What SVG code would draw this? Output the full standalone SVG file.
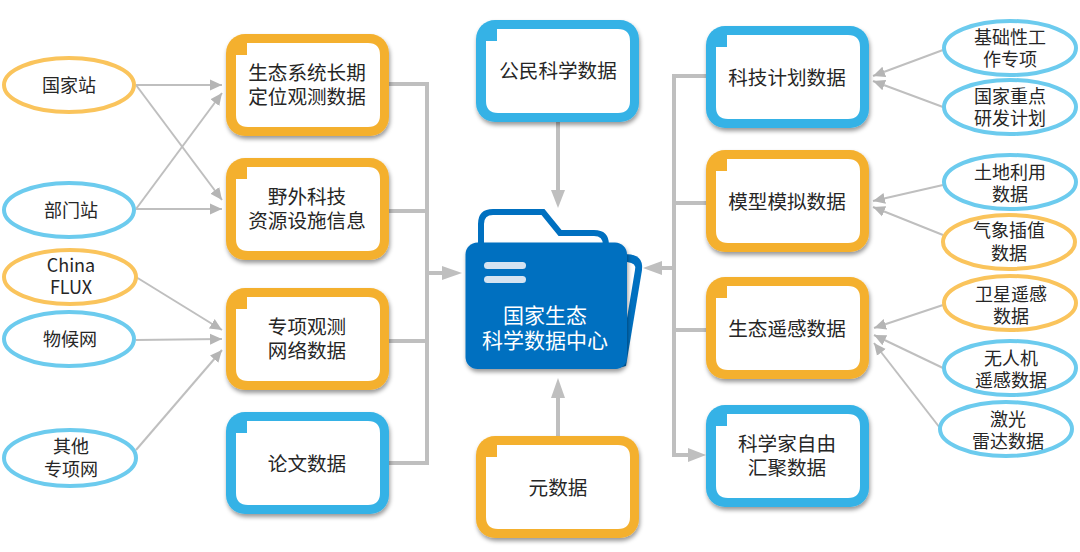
<svg xmlns="http://www.w3.org/2000/svg" width="1080" height="552" viewBox="0 0 1080 552">
<style>
text{font-family:"Noto Sans CJK SC","Noto Sans",sans-serif;fill:#262626;text-anchor:middle}
.b{font-size:19.6px}
.e{font-size:18px}
.f{font-size:21px;fill:#fff}
.eo{fill:#fff;stroke:#FAC45C;stroke-width:4}
.eb{fill:#fff;stroke:#6CCBEE;stroke-width:4}
.th{fill:none;stroke:#BFBFBF;stroke-width:4}
.tn{fill:none;stroke:#BFBFBF;stroke-width:2}
.o{fill:#F4B02F}
.u{fill:#34B2E6}
.ah{fill:#BFBFBF}
</style>
<defs>
<filter id="sh" x="-10%" y="-10%" width="125%" height="125%"><feDropShadow dx="1" dy="3" stdDeviation="2" flood-color="#000" flood-opacity=".4"/></filter>
<rect id="outer" width="163" height="102" rx="19" filter="url(#sh)"/>
<path id="inner" fill="#fff" d="M21 9H142Q154 9 154 21V81Q154 93 142 93H22Q10 93 10 81V21H21Z"/>
<marker id="a" markerUnits="userSpaceOnUse" markerWidth="14" markerHeight="14" refX="12" refY="7" orient="auto"><path d="M0 1.500L12 7L0 12.500Z" fill="#B5B5B5"/></marker>
</defs>

<g id="connectors">
<path class="th" d="M389 84H427V463H389M389 211H427M389 341H427"/>
<path class="th" d="M427 273H444"/><path class="ah" d="M442 266L462 273L442 280Z"/>
<path class="th" d="M706 76H674V455H690M706 203H674M706 330H674"/><path class="ah" d="M688 448L706 455L688 462Z"/>
<path class="th" d="M674 268H660"/><path class="ah" d="M662 261L643 268L662 275Z"/>
<path class="th" d="M558 122V192"/><path class="ah" d="M551 190H565L558 208Z"/>
<path class="th" d="M558 436V396"/><path class="ah" d="M551 398H565L558 378Z"/>
<path class="tn" marker-end="url(#a)" d="M136 85H222"/>
<path class="tn" marker-end="url(#a)" d="M136 85L222 200"/>
<path class="tn" marker-end="url(#a)" d="M136 209L222 93"/>
<path class="tn" marker-end="url(#a)" d="M136 209H222"/>
<path class="tn" marker-end="url(#a)" d="M136 277L222 330"/>
<path class="tn" marker-end="url(#a)" d="M136 340L222 339"/>
<path class="tn" marker-end="url(#a)" d="M136 450L222 350"/>
<path class="tn" marker-end="url(#a)" d="M943 50L873 76"/>
<path class="tn" marker-end="url(#a)" d="M943 107L873 81"/>
<path class="tn" marker-end="url(#a)" d="M943 185L873 201"/>
<path class="tn" marker-end="url(#a)" d="M943 235L873 207"/>
<path class="tn" marker-end="url(#a)" d="M943 305L874 328"/>
<path class="tn" marker-end="url(#a)" d="M943 368L874 335"/>
<path class="tn" marker-end="url(#a)" d="M940 428L874 343"/>
</g>

<g id="n-center">
<path d="M481 245V224Q481 212 493 212H543L560 233H594Q606 233 606 245" fill="#fff" stroke="#0070C0" stroke-width="6"/>
<path d="M625 254Q644 254 642 270L626 366L615 369Z" fill="#0070C0"/>
<path d="M627 262Q637 263 635 270L627 318Z" fill="#fff"/>
<rect x="465.500" y="242.500" width="161.500" height="126.500" rx="12" fill="#0070C0" filter="url(#sh)"/>
<rect x="484" y="262" width="42" height="7" rx="3.500" fill="#D5E3F1"/>
<rect x="484" y="276" width="42" height="7" rx="3.500" fill="#D5E3F1"/>
<text class="f" x="545" y="323">国家生态</text>
<text class="f" x="545" y="348">科学数据中心</text>
</g>

<g id="n-l1"><g transform="translate(226 34)"><use href="#outer" class="o"/><use href="#inner"/></g><text class="b" x="307" y="80">生态系统长期</text><text class="b" x="307" y="104">定位观测数据</text></g>
<g id="n-l2"><g transform="translate(226 158)"><use href="#outer" class="o"/><use href="#inner"/></g><text class="b" x="307" y="204">野外科技</text><text class="b" x="307" y="228">资源设施信息</text></g>
<g id="n-l3"><g transform="translate(226 288)"><use href="#outer" class="o"/><use href="#inner"/></g><text class="b" x="307" y="334">专项观测</text><text class="b" x="307" y="358">网络数据</text></g>
<g id="n-l4"><g transform="translate(226 412)"><use href="#outer" class="u"/><use href="#inner"/></g><text class="b" x="307" y="471">论文数据</text></g>
<g id="n-c1"><g transform="translate(476 20)"><use href="#outer" class="u"/><use href="#inner"/></g><text class="b" x="558" y="78">公民科学数据</text></g>
<g id="n-c2"><g transform="translate(476 436)"><use href="#outer" class="o"/><use href="#inner"/></g><text class="b" x="558" y="495">元数据</text></g>
<g id="n-r1"><g transform="translate(706 26)"><use href="#outer" class="u"/><use href="#inner"/></g><text class="b" x="787" y="85">科技计划数据</text></g>
<g id="n-r2"><g transform="translate(706 150)"><use href="#outer" class="o"/><use href="#inner"/></g><text class="b" x="787" y="209">模型模拟数据</text></g>
<g id="n-r3"><g transform="translate(706 277)"><use href="#outer" class="o"/><use href="#inner"/></g><text class="b" x="787" y="336">生态遥感数据</text></g>
<g id="n-r4"><g transform="translate(706 405)"><use href="#outer" class="u"/><use href="#inner"/></g><text class="b" x="787" y="451">科学家自由</text><text class="b" x="787" y="475">汇聚数据</text></g>

<g id="e1"><ellipse class="eo" cx="69" cy="85" rx="65" ry="27"/><text class="e" x="69" y="92">国家站</text></g>
<g id="e2"><ellipse class="eb" cx="69" cy="210" rx="65" ry="27"/><text class="e" x="71" y="217">部门站</text></g>
<g id="e3"><ellipse class="eo" cx="70" cy="277" rx="66" ry="27"/><text class="e" x="71" y="272">China</text><text class="e" x="71" y="294">FLUX</text></g>
<g id="e4"><ellipse class="eb" cx="69" cy="339" rx="65" ry="27"/><text class="e" x="70" y="346">物候网</text></g>
<g id="e5"><ellipse class="eb" cx="70" cy="458" rx="66" ry="28"/><text class="e" x="71" y="453">其他</text><text class="e" x="71" y="476">专项网</text></g>
<g id="e6"><ellipse class="eb" cx="1010" cy="48" rx="66" ry="27"/><text class="e" x="1010" y="44">基础性工</text><text class="e" x="1010" y="66">作专项</text></g>
<g id="e7"><ellipse class="eb" cx="1010" cy="107" rx="66" ry="27"/><text class="e" x="1010" y="103">国家重点</text><text class="e" x="1010" y="125">研发计划</text></g>
<g id="e8"><ellipse class="eb" cx="1010" cy="182" rx="66" ry="27"/><text class="e" x="1010" y="179">土地利用</text><text class="e" x="1010" y="201">数据</text></g>
<g id="e9"><ellipse class="eo" cx="1009" cy="242" rx="66" ry="27"/><text class="e" x="1009" y="237">气象插值</text><text class="e" x="1009" y="260">数据</text></g>
<g id="e10"><ellipse class="eo" cx="1010" cy="303" rx="66" ry="27"/><text class="e" x="1011" y="301">卫星遥感</text><text class="e" x="1011" y="323">数据</text></g>
<g id="e11"><ellipse class="eb" cx="1010" cy="368" rx="66" ry="27"/><text class="e" x="1011" y="365">无人机</text><text class="e" x="1011" y="387">遥感数据</text></g>
<g id="e12"><ellipse class="eb" cx="1006" cy="429" rx="66" ry="27"/><text class="e" x="1008" y="426">激光</text><text class="e" x="1008" y="448">雷达数据</text></g>
</svg>
